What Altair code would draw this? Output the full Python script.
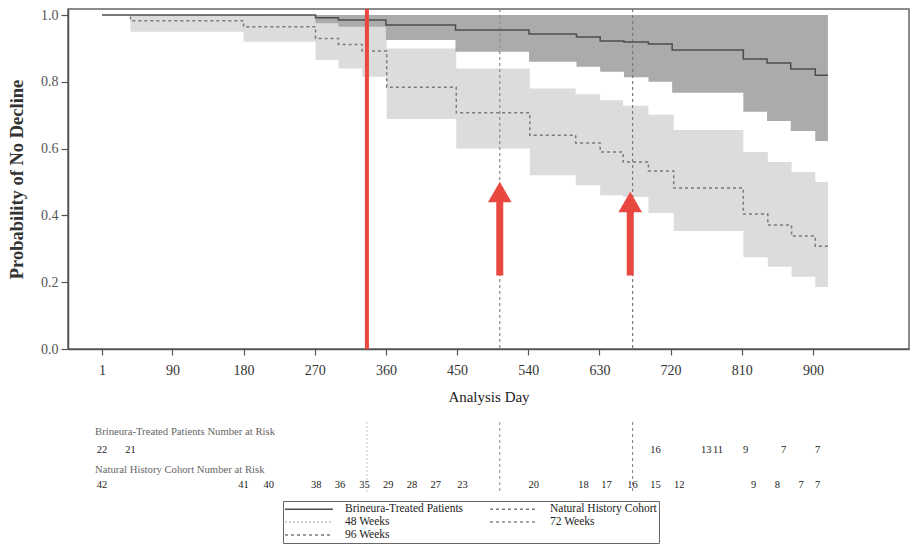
import altair as alt
import pandas as pd

# ---------------- data ----------------
# order of categories follows the reference legend (filled column by column)
series_names = ["Brineura-Treated Patients", "48 Weeks", "96 Weeks",
                "Natural History Cohort", "72 Weeks"]
series_colors = ["#4d4d4d", "#c4c4c4", "#7a7a7a", "#7a7a7a", "#8a8a8a"]
series_dashes = [[1, 0], [2, 2], [3, 3], [3, 3], [3, 3]]

treated_day   = [1, 37, 271, 300, 360, 448, 541, 601, 631, 661, 692, 722, 812, 842, 872, 903, 919]
treated_surv  = [1.0, 1.0, 0.992, 0.985, 0.970, 0.955, 0.943, 0.934, 0.922, 0.919, 0.913, 0.895,
                 0.868, 0.856, 0.838, 0.820, 0.820]
treated_lower = [1.0, 1.0, 0.975, 0.965, 0.925, 0.890, 0.860, 0.845, 0.830, 0.814, 0.800, 0.767,
                 0.710, 0.683, 0.653, 0.623, 0.623]
treated_upper = [1.0, 1.0, 1.0, 1.0, 1.0, 1.0, 1.0, 1.0, 1.0, 1.0, 1.0, 1.0,
                 1.0, 1.0, 1.0, 1.0, 1.0]

natural_day   = [1, 37, 180, 271, 300, 330, 361, 449, 542, 600, 631, 660, 692, 724, 812, 843, 873, 903, 919]
natural_surv  = [1.0, 0.983, 0.965, 0.930, 0.912, 0.892, 0.784, 0.707, 0.640, 0.617, 0.590, 0.560,
                 0.533, 0.482, 0.404, 0.371, 0.338, 0.308, 0.308]
natural_lower = [1.0, 0.950, 0.920, 0.865, 0.840, 0.815, 0.689, 0.600, 0.520, 0.490, 0.460, 0.455,
                 0.407, 0.353, 0.275, 0.246, 0.216, 0.186, 0.186]
natural_upper = [1.0, 1.0, 1.0, 1.0, 1.0, 1.0, 0.900, 0.840, 0.780, 0.763, 0.745, 0.728,
                 0.701, 0.656, 0.590, 0.560, 0.530, 0.500, 0.500]

week_names = ["48 Weeks", "72 Weeks", "96 Weeks"]
week_days = [336, 504, 672]

red_line_day = [336]

arrow_day = [504, 669]
arrow_tip = [0.50, 0.47]
arrow_base = [0.22, 0.22]

x_ticks = [1, 90, 180, 270, 360, 450, 540, 630, 720, 810, 900]
y_ticks = [0.0, 0.2, 0.4, 0.6, 0.8, 1.0]

risk_titles = ["Brineura-Treated Patients Number at Risk",
               "Natural History Cohort Number at Risk"]
treated_risk_day = [1, 37, 701, 765, 780, 815, 863, 906]
treated_risk_n = [22, 21, 16, 13, 11, 9, 7, 7]
natural_risk_day = [1, 180, 212, 272, 302, 333, 363, 393, 423, 457, 547, 610, 639, 672,
                    701, 731, 825, 855, 885, 906]
natural_risk_n = [42, 41, 40, 38, 36, 35, 29, 28, 27, 23, 20, 18, 17, 16, 15, 12, 9, 8, 7, 7]

# ---------------- tables ----------------
treated = pd.DataFrame({"day": treated_day, "surv": treated_surv, "lower": treated_lower,
                        "upper": treated_upper, "series": "Brineura-Treated Patients"})
natural = pd.DataFrame({"day": natural_day, "surv": natural_surv, "lower": natural_lower,
                        "upper": natural_upper, "series": "Natural History Cohort"})
curves = pd.concat([treated, natural], ignore_index=True)
weeks = pd.DataFrame({"day": week_days, "series": week_names})
red = pd.DataFrame({"day": red_line_day})
arrows = pd.DataFrame({"day": arrow_day, "tip": arrow_tip, "base": arrow_base})
risk_t = pd.DataFrame({"day": treated_risk_day, "n": treated_risk_n})
risk_n = pd.DataFrame({"day": natural_risk_day, "n": natural_risk_n})
risk_lab1 = pd.DataFrame({"label": [risk_titles[0]]})
risk_lab2 = pd.DataFrame({"label": [risk_titles[1]]})

SERIF = "Liberation Serif"
RED = "#e8483f"
W, H = 841, 340

xscale = alt.Scale(domain=[-42, 1021.5], nice=False, zero=False)
yscale = alt.Scale(domain=[0, 1.018], nice=False, zero=False)

xenc = alt.X("day:Q", scale=xscale,
             axis=alt.Axis(values=x_ticks, title="Analysis Day", grid=False,
                           labelFontSize=14, titleFontSize=15, titleFontWeight="normal",
                           tickSize=6, labelPadding=8, titlePadding=12,
                           labelFlush=False))

color_scale = alt.Scale(domain=series_names, range=series_colors)
dash_scale = alt.Scale(domain=series_names, range=series_dashes)
legend = alt.Legend(title=None, orient="none", legendX=215, legendY=492, columns=2,
                    symbolType="M-4.8,0H4.8", symbolSize=100, symbolStrokeWidth=1.5,
                    symbolOffset=18, labelOffset=30, labelFont=SERIF, labelFontSize=11.5,
                    labelColor="#222", strokeColor="#666", fillColor="white",
                    padding=2, rowPadding=1, columnPadding=23, labelLimit=300)
cenc = alt.Color("series:N", scale=color_scale, legend=legend)
denc = alt.StrokeDash("series:N", scale=dash_scale, legend=legend)

light_band = alt.Chart(natural).mark_area(interpolate="step-after", color="#dcdcdc", opacity=1).encode(
    x=xenc,
    y=alt.Y("lower:Q", scale=yscale,
            axis=alt.Axis(values=y_ticks, format=".1f", title="Probability of No Decline",
                          grid=False, labelFontSize=14, labelColor="#555",
                          titleFontSize=18.5, titleFontWeight="bold", titleColor="#333",
                          tickSize=7, labelPadding=3, titlePadding=14)),
    y2="upper:Q",
)
dark_band = alt.Chart(treated).mark_area(interpolate="step-after", color="#ababab", opacity=1).encode(
    x="day:Q", y="lower:Q", y2="upper:Q"
)
week_rules = alt.Chart(weeks).mark_rule(strokeWidth=1.2).encode(
    x="day:Q", color=cenc, strokeDash=denc
)
lines = alt.Chart(curves).mark_line(interpolate="step-after", strokeWidth=1.5).encode(
    x="day:Q", y="surv:Q", color=cenc, strokeDash=denc
)
red_rule = alt.Chart(red).mark_rule(color=RED, strokeWidth=4).encode(x="day:Q")
shafts = alt.Chart(arrows).mark_rule(color=RED, strokeWidth=7, y2Offset=14).encode(
    x="day:Q", y="base:Q", y2="tip:Q"
)
heads = alt.Chart(arrows).mark_point(shape="triangle-up", filled=True, size=560,
                                     color=RED, opacity=1, yOffset=10).encode(
    x="day:Q", y="tip:Q"
)
table_rules = alt.Chart(weeks).mark_rule(strokeWidth=1).encode(
    x="day:Q", y=alt.value(413), y2=alt.value(483), color=cenc, strokeDash=denc
)
lab1 = alt.Chart(risk_lab1).mark_text(font=SERIF, fontSize=10.7, color="#666", align="left",
                                      baseline="middle").encode(
    x=alt.value(27), y=alt.value(423), text="label:N")
lab2 = alt.Chart(risk_lab2).mark_text(font=SERIF, fontSize=10.7, color="#666", align="left",
                                      baseline="middle").encode(
    x=alt.value(27), y=alt.value(461), text="label:N")
num1 = alt.Chart(risk_t).mark_text(font=SERIF, fontSize=10.5, color="#222", align="center",
                                   baseline="middle").encode(
    x="day:Q", y=alt.value(441), text="n:Q")
num2 = alt.Chart(risk_n).mark_text(font=SERIF, fontSize=10.5, color="#222", align="center",
                                   baseline="middle").encode(
    x="day:Q", y=alt.value(476), text="n:Q")

chart = alt.layer(
    light_band, dark_band, week_rules, lines, red_rule, shafts, heads,
    table_rules, lab1, lab2, num1, num2
).properties(
    width=W, height=H,
    autosize=alt.AutoSizeParams(type="none"),
    padding={"left": 60, "top": 1, "right": 1, "bottom": 195},
).configure_view(
    stroke="#666", strokeWidth=1.5
).configure_axis(
    labelFont=SERIF, titleFont=SERIF, labelColor="#333", titleColor="#222",
    domainColor="#555", domainWidth=1.5, tickColor="#555", tickWidth=1.2
)

chart.save("out.html", embed_options={"renderer": "svg", "actions": False})
